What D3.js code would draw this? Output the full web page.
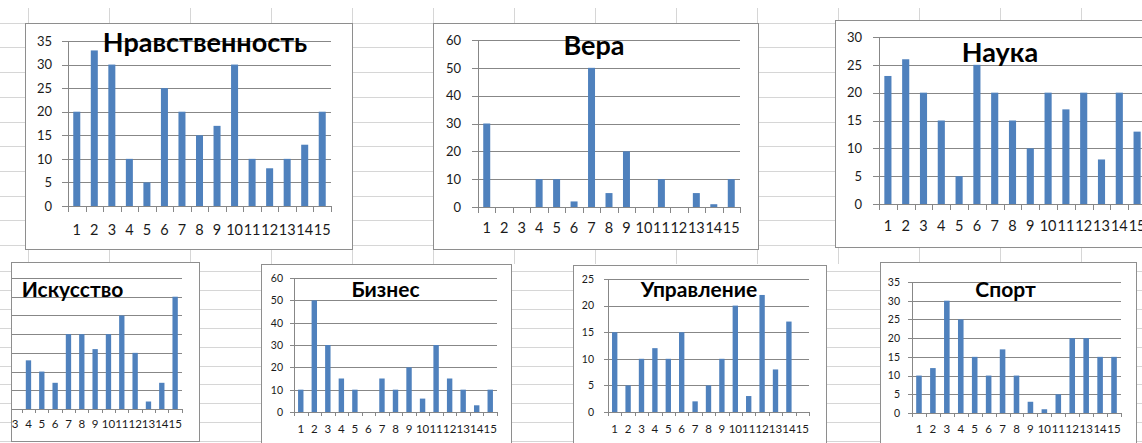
<!DOCTYPE html>
<html><head><meta charset="utf-8">
<script src="https://cdn.jsdelivr.net/npm/d3@7"></script>
<style>
html,body{margin:0;padding:0;background:#fff;}
svg{display:block;font-family:Lato,"Open Sans",sans-serif;}
</style></head><body>
<svg id="c" width="1142" height="443"></svg>
<script>
// ---------- data ----------
const categories = ["1","2","3","4","5","6","7","8","9","10","11","12","13","14","15"];
const titles = ["Нравственность","Вера","Наука","Искусство","Бизнес","Управление","Спорт"];
const moralityValues   = [20,33,30,10,5,25,20,15,17,30,10,8,10,13,20];
const faithValues      = [30,0,0,10,10,2,50,5,20,0,10,0,5,1,10];
const scienceValues    = [23,26,20,15,5,25,20,15,10,20,17,20,8,20,13];
const artValues        = [null,null,0,13,10,7,20,20,16,20,25,15,2,7,30];
const businessValues   = [10,50,30,15,10,0,15,10,20,6,30,15,10,3,10];
const managementValues = [15,5,10,12,10,15,2,5,10,20,3,22,8,17,0];
const sportValues      = [10,12,30,25,15,10,17,10,3,1,5,20,20,15,15];
const ticks35 = [0,5,10,15,20,25,30,35];
const ticks60 = [0,10,20,30,40,50,60];
const ticks30 = [0,5,10,15,20,25,30];
const ticks25 = [0,5,10,15,20,25];

const series = [moralityValues, faithValues, scienceValues, artValues, businessValues, managementValues, sportValues];
const yTicks = [ticks35, ticks60, ticks30, ticks35, ticks60, ticks25, ticks35];

// ---------- layout (positions / styles only) ----------
const layouts = [
  {frame:[25,23,352,249],  plot:[68,41,331,206],  title:[205,52],  tSize:27, xf:14.5, yf:13,  xl:235, tick:6, yl:16, ylab:true},
  {frame:[433,23,758,249], plot:[478,40,740,207], title:[594,55],  tSize:27, xf:14.5, yf:13,  xl:233, tick:6, yl:17, ylab:true},
  {frame:[835,20,1170,247],plot:[879,37,1146,204],title:[1000,62], tSize:27, xf:14.5, yf:13,  xl:231, tick:6, yl:17, ylab:true},
  {frame:[11,262,199,441], plot:[-18.2,278,181.8,409], title:[72.5,297], tSize:21, xf:11.5, yf:10.5, xl:428, tick:4, yl:12, ylab:false},
  {frame:[261,264,511,460],plot:[294,278,497,412],title:[385.5,297],tSize:21, xf:11.5, yf:10.5, xl:433, tick:4, yl:11, ylab:true},
  {frame:[573,265,826,460],plot:[608,279,809,412],title:[699,297], tSize:21, xf:11.5, yf:10.5, xl:433, tick:4, yl:14, ylab:true},
  {frame:[880,262,1136,460],plot:[912,282,1121,413],title:[1005.5,297],tSize:21, xf:11.5, yf:10.5, xl:433, tick:4, yl:12, ylab:true}
];

const BAR = "#4f81bd", GRID = "#878787", FRAME = "#8e8e8e", SHEET = "#d6d6d6", TXT = "#1a1a1a";
const svg = d3.select("#c");

// ---------- spreadsheet background ----------
const bg = svg.append("g");
const topRows = d3.range(10).map(k => 22.7 + 24.7*k);
const botRows = d3.range(10).map(k => 271 + 18.9*k);
const cols = d3.range(14).map(k => 28 + 81*k);
bg.selectAll(".hr").data(topRows.concat(botRows)).join("line")
  .attr("x1",0).attr("x2",1142).attr("y1",d=>Math.round(d)+0.5).attr("y2",d=>Math.round(d)+0.5)
  .attr("stroke",SHEET).attr("stroke-width",1);
bg.selectAll(".vc").data(cols).join("line")
  .attr("x1",d=>d+0.5).attr("x2",d=>d+0.5).attr("y1",8).attr("y2",264)
  .attr("stroke",SHEET).attr("stroke-width",1);

// ---------- charts ----------
series.forEach((vals, i) => {
  const L = layouts[i];
  const [fx0,fy0,fx1,fy1] = L.frame;
  const [px0,py0,px1,py1] = L.plot;
  const ticks = yTicks[i];
  const g = svg.append("g");
  const cid = "clip"+i;
  svg.append("clipPath").attr("id",cid).append("rect")
    .attr("x",fx0).attr("y",fy0).attr("width",fx1-fx0).attr("height",fy1-fy0);
  g.append("rect").attr("x",fx0+0.5).attr("y",fy0+0.5).attr("width",fx1-fx0).attr("height",fy1-fy0)
    .attr("fill","#fff");
  const inner = g.append("g").attr("clip-path",`url(#${cid})`);

  const x = d3.scaleBand().domain(categories).range([px0,px1]).paddingInner(0.6).paddingOuter(0.3);
  const xb = d3.scaleLinear().domain([0,categories.length]).range([px0,px1]);
  const y = d3.scaleLinear().domain([0, d3.max(ticks)]).range([py1,py0]);

  // gridlines
  inner.append("g").attr("transform",`translate(${px0},0)`)
    .call(d3.axisLeft(y).tickValues(ticks).tickSize(-(px1-px0)).tickFormat(""))
    .call(a=>a.select(".domain").remove())
    .call(a=>a.selectAll("line").attr("stroke",GRID).attr("shape-rendering","crispEdges"));

  // y axis with outward ticks and labels
  const ya = d3.axisLeft(y).tickValues(ticks).tickSize(L.tick).tickSizeOuter(0).tickPadding(L.yl-L.tick);
  if (!L.ylab) ya.tickFormat("");
  inner.append("g").attr("transform",`translate(${px0},0)`)
    .call(ya)
    .call(a=>a.select(".domain").attr("stroke",GRID).attr("shape-rendering","crispEdges"))
    .call(a=>a.selectAll("line").attr("stroke",GRID).attr("shape-rendering","crispEdges"))
    .call(a=>a.selectAll("text").attr("fill",TXT).style("font-size",L.yf+"px").style("font-family","Lato,sans-serif"));

  // bars
  inner.append("g").selectAll("rect")
    .data(categories.map((c,j)=>({c, v: vals[j]})).filter(d=>d.v!=null && d.v>0))
    .join("rect")
    .attr("x",d=>x(d.c)).attr("width",x.bandwidth())
    .attr("y",d=>y(d.v)).attr("height",d=>y(0)-y(d.v))
    .attr("fill",BAR);

  // x axis boundary ticks
  inner.append("g").attr("transform",`translate(0,${py1})`)
    .call(d3.axisBottom(xb).tickValues(d3.range(categories.length+1)).tickSize(L.tick).tickSizeOuter(0).tickFormat(""))
    .call(a=>a.select(".domain").attr("stroke",GRID).attr("shape-rendering","crispEdges"))
    .call(a=>a.selectAll("line").attr("stroke",GRID).attr("shape-rendering","crispEdges"));

  // x labels (only those whose centre lies inside the chart frame)
  const visibleCats = categories.filter(c => x(c) + x.bandwidth()/2 > fx0);
  inner.append("g").attr("transform",`translate(0,${L.xl})`)
    .call(d3.axisBottom(x).tickValues(visibleCats).tickSize(0).tickPadding(0))
    .call(a=>a.select(".domain").remove())
    .call(a=>a.selectAll("text").attr("dy",0).attr("fill",TXT)
      .style("font-size",L.xf+"px").style("font-family","Lato,sans-serif"));

  // title
  inner.append("text").attr("x",L.title[0]).attr("y",L.title[1]).attr("text-anchor","middle")
    .attr("fill","#000").style("font-weight","bold").style("font-size",L.tSize+"px")
    .style("font-family","Lato,sans-serif").text(titles[i]);

  // frame border
  g.append("rect").attr("x",fx0+0.5).attr("y",fy0+0.5).attr("width",fx1-fx0).attr("height",fy1-fy0)
    .attr("fill","none").attr("stroke",FRAME).attr("stroke-width",1);
});
</script>
</body></html>
